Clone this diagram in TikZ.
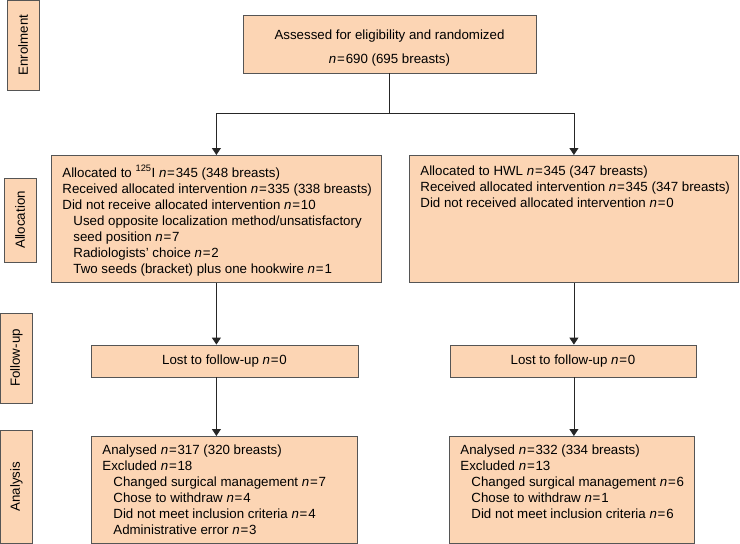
\documentclass[tikz,border=0pt]{standalone}
\usepackage{fontspec}
\setmainfont{Liberation Sans}
\usepackage{xcolor}
\usetikzlibrary{arrows.meta}
\definecolor{peach}{RGB}{252,213,180}
\definecolor{edge}{RGB}{85,85,85}
% box text: height, width, top pad, lines
\newcommand{\boxtxt}[4]{\parbox[t][#1][t]{#2}{\vspace*{#3}\hspace*{11pt}\begin{tabular}[t]{@{}l@{}}#4\end{tabular}}}
\newcommand{\nn}[1]{\textit{n}\kern0.8pt=\kern0.8pt#1}

\begin{document}
\begin{tikzpicture}[x=1pt,y=-1pt,
  font=\fontsize{13.3}{16}\selectfont,
  box/.style={draw=edge,fill=peach,line width=0.8pt,inner sep=0pt},
  stage/.style={box,rotate=90,minimum height=32pt},
  arr/.style={-{Triangle[width=9pt,length=7pt]},line width=0.8pt,black!85}]
\useasboundingbox (0,0) rectangle (740,544);
%
\node[stage,minimum width=90pt] (enrol) at (23,45) {Enrolment};
\node[stage,minimum width=84pt] (alloc) at (20,220) {Allocation};
\node[stage,minimum width=90pt] (follow) at (16.5,358) {Follow-up};
\node[stage,minimum width=113pt] (analys) at (16.5,486.5) {Analysis};
%
\node[box] (rand) at (389.5,44) {\parbox[t][58pt][t]{293pt}{\centering\vspace*{15pt}%
  Assessed for eligibility and randomized\\[8pt]\nn{690} (695 breasts)}};
%
\node[box,anchor=north west] (allocI) at (51,155) {\boxtxt{127pt}{330pt}{10pt}{%
  Allocated to \textsuperscript{125}I \nn{345} (348 breasts)\\
  Received allocated intervention \nn{335} (338 breasts)\\
  Did not receive allocated intervention \nn{10}\\
  \hspace*{11pt}Used opposite localization method/unsatisfactory\\
  \hspace*{11pt}seed position \nn{7}\\
  \hspace*{11pt}Radiologists' choice \nn{2}\\
  \hspace*{11pt}Two seeds (bracket) plus one hookwire \nn{1}}};
\node[box,anchor=north west] (allocH) at (409,155) {\boxtxt{127pt}{329pt}{8.5pt}{%
  Allocated to HWL \nn{345} (347 breasts)\\
  Received allocated intervention \nn{345} (347 breasts)\\
  Did not received allocated intervention \nn{0}}};
%
\node[box,minimum width=267pt,minimum height=32pt] (lostI) at (224.5,361) {Lost to follow-up \nn{0}};
\node[box,minimum width=246pt,minimum height=32pt] (lostH) at (573,361) {Lost to follow-up \nn{0}};
%
\node[box,anchor=north west] (anaI) at (91,436) {\boxtxt{107pt}{266pt}{6.5pt}{%
  Analysed \nn{317} (320 breasts)\\
  Excluded \nn{18}\\
  \hspace*{11pt}Changed surgical management \nn{7}\\
  \hspace*{11pt}Chose to withdraw \nn{4}\\
  \hspace*{11pt}Did not meet inclusion criteria \nn{4}\\
  \hspace*{11pt}Administrative error \nn{3}}};
\node[box,anchor=north west] (anaH) at (449,436) {\boxtxt{107pt}{245pt}{6.5pt}{%
  Analysed \nn{332} (334 breasts)\\
  Excluded \nn{13}\\
  \hspace*{11pt}Changed surgical management \nn{6}\\
  \hspace*{11pt}Chose to withdraw \nn{1}\\
  \hspace*{11pt}Did not meet inclusion criteria \nn{6}}};
%
\coordinate (split) at (rand.south |- 0,113);
\draw[line width=0.8pt,black!85] (rand.south) -- (split);
\draw[arr] (split) -| (allocI.north);
\draw[arr] (split) -| (allocH.north);
\draw[arr] (allocI.south) -- (allocI.south |- lostI.north);
\draw[arr] (allocH.south) -- (allocH.south |- lostH.north);
\draw[arr] (allocI.south |- lostI.south) -- (allocI.south |- anaI.north);
\draw[arr] (allocH.south |- lostH.south) -- (allocH.south |- anaH.north);
\end{tikzpicture}
\end{document}
